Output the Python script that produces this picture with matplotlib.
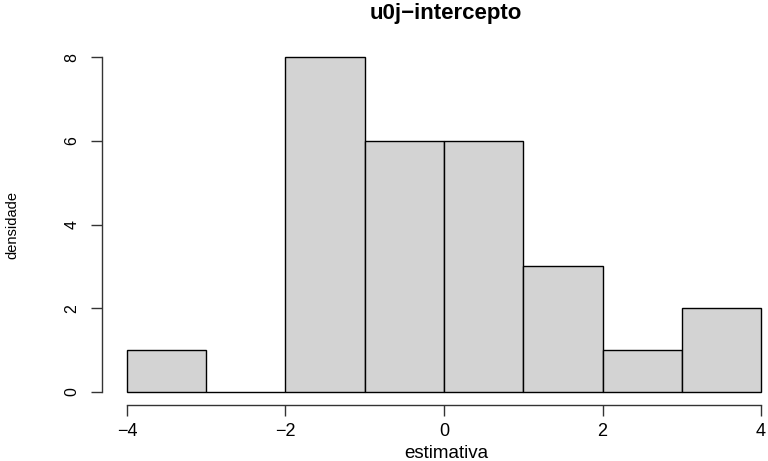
import matplotlib
matplotlib.use("Agg")
import matplotlib.pyplot as plt

edges = [-4, -3, -2, -1, 0, 1, 2, 3, 4]
counts = [1, 0, 8, 6, 6, 3, 1, 2]
xticks = [-4, -2, 0, 2, 4]
yticks = [0, 2, 4, 6, 8]

plt.rcParams["font.family"] = ["Liberation Sans", "DejaVu Sans"]

fig = plt.figure(figsize=(7.68, 4.61), dpi=100)
W, H = 768, 461
# plot region in pixels (R-style 4% expansion of the data range)
left, right, top, bottom = 101.6, 786.4, 43.6, 405.4
ax = fig.add_axes([left / W, 1 - bottom / H, (right - left) / W, (bottom - top) / H])

ax.bar(edges[:-1], counts, width=1, align="edge", color="#d3d3d3",
       edgecolor="black", linewidth=1.0)

ax.set_xlim(-4.32, 4.32)
ax.set_ylim(-0.32, 8.32)

for s in ["top", "right"]:
    ax.spines[s].set_visible(False)
ax.spines["left"].set_bounds(0, 8)
ax.spines["bottom"].set_bounds(-4, 4)
for s in ["left", "bottom"]:
    ax.spines[s].set_color("#333333")
    ax.spines[s].set_linewidth(1.0)

ax.set_xticks(xticks)
ax.set_xticklabels([str(v).replace("-", "\u2212") for v in xticks], fontsize=13)
ax.set_yticks(yticks)
ax.set_yticklabels([str(v) for v in yticks], fontsize=11.5, rotation=90,
                   va="center")
ax.tick_params(axis="x", length=8, width=1.0, color="#333333", pad=5)
ax.tick_params(axis="y", length=8, width=1.0, color="#333333", pad=8)

fig.text(446 / W, 1 - 453 / H, "estimativa", fontsize=13.5,
         ha="center", va="center")
fig.text(12 / W, 1 - 225 / H, "densidade", rotation=90, fontsize=10.5,
         ha="center", va="center")
fig.text(446 / W, 1 - 14 / H, "u0j\u2212intercepto", fontsize=16,
         fontweight="bold", ha="center", va="center")

fig.savefig("out.png", dpi=100)
